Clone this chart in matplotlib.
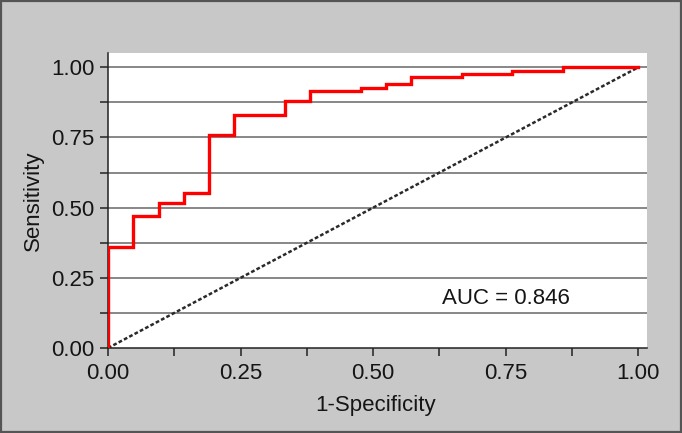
import matplotlib.pyplot as plt
from matplotlib.patches import Rectangle
from matplotlib.ticker import MultipleLocator

# ROC curve (21 negatives on the x axis)
fpr = [0, 0, 1/21, 1/21, 2/21, 2/21, 3/21, 3/21, 4/21, 4/21, 5/21, 5/21,
       7/21, 7/21, 8/21, 8/21, 10/21, 10/21, 11/21, 11/21, 12/21, 12/21,
       14/21, 14/21, 16/21, 16/21, 18/21, 18/21, 1.0]
tpr = [0, 0.361, 0.361, 0.470, 0.470, 0.518, 0.518, 0.553, 0.553, 0.759,
       0.759, 0.831, 0.831, 0.880, 0.880, 0.916, 0.916, 0.928, 0.928, 0.940,
       0.940, 0.964, 0.964, 0.976, 0.976, 0.988, 0.988, 1.0, 1.0]
chance = [0, 1]
auc_text = "AUC = 0.846"
tick_vals = [0, 0.25, 0.5, 0.75, 1.0]
tick_labels = ["0.00", "0.25", "0.50", "0.75", "1.00"]

plt.rcParams['font.family'] = ['Liberation Sans', 'DejaVu Sans']

fig = plt.figure(figsize=(6.82, 4.33), dpi=100, facecolor='#c8c8c8')
# dark frame round the whole picture
fig.patches.append(Rectangle((0.0015, 0.0025), 0.997, 0.995, transform=fig.transFigure,
                             fill=False, edgecolor='#555555', lw=1.6))

ax = fig.add_axes([0.1584, 0.1963, 0.79, 0.682])
ax.set_facecolor('white')

# horizontal grid every 0.125
for g in [0.125, 0.25, 0.375, 0.5, 0.625, 0.75, 0.875, 1.0]:
    ax.axhline(g, color='#737373', lw=1.2, zorder=1)

ax.plot(chance, chance, color='#2a2a2a', lw=1.8, ls=(0, (1.5, 0.9)), zorder=2)
ax.plot(fpr, tpr, color='#ff0000', lw=2.4, zorder=3, solid_joinstyle='miter')

ax.text(0.75, 0.157, auc_text, ha='center', va='baseline', fontsize=16, color='#151515')

ax.set_xlim(0, 1.016)
ax.set_ylim(0, 1.052)

ax.set_xticks(tick_vals)
ax.set_xticklabels(tick_labels)
ax.set_yticks(tick_vals)
ax.set_yticklabels(tick_labels)
ax.xaxis.set_minor_locator(MultipleLocator(0.125))
ax.yaxis.set_minor_locator(MultipleLocator(0.125))
ax.tick_params(which='both', length=6, width=1.1, color='#222222', direction='out')
ax.tick_params(axis='x', which='major', labelsize=16, pad=5, labelcolor='#151515')
ax.tick_params(axis='y', which='major', labelsize=16, pad=4, labelcolor='#151515')

for s in ['top', 'right']:
    ax.spines[s].set_visible(False)
for s in ['left', 'bottom']:
    ax.spines[s].set_color('#222222')
    ax.spines[s].set_linewidth(1.1)

ax.set_xlabel("1-Specificity", fontsize=16, color='#151515')
ax.set_ylabel("Sensitivity", fontsize=16, color='#151515')
ax.xaxis.set_label_coords(0.497, -0.158)
ax.yaxis.set_label_coords(-0.119, 0.5)

fig.savefig('out.png', dpi=100, facecolor=fig.get_facecolor())
